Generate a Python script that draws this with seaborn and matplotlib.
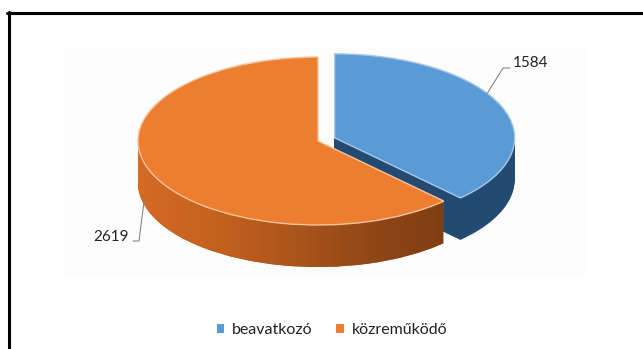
import numpy as np
import matplotlib
matplotlib.use("Agg")
import matplotlib.pyplot as plt
from matplotlib.path import Path
from matplotlib.patches import Rectangle
from matplotlib.lines import Line2D
from matplotlib.colors import LinearSegmentedColormap
import seaborn as sns

# data
categories = ["beavatkozó", "közreműködő"]
counts = [1584, 2619]
explode = [0.1, 0.0]

# styling
top_colors = ["#5b9bd5", "#ed7d31"]
edge_colors = ["#a8c8e9", "#f8c49a"]
side_colors = ["#234a71", "#b85a1c"]
text_color = "#222222"

sns.set_theme(style="white")
plt.rcParams["font.family"] = ["Lato", "DejaVu Sans"]

W, H = 643, 349
fig = plt.figure(figsize=(W / 100, H / 100), dpi=100)
fig.patch.set_facecolor("white")
ax = fig.add_axes([0, 0, 1, 1])

# projected pie: ellipse centre and radii in pixels, thickness of the disc
cx, cy = 318, 141
rx, ry = 180, 84
depth = 42


def to_data(px, py):
    return (px - cx) / rx, (cy - py) / ry


pie_kw = dict(startangle=90, counterclock=False, explode=explode, radius=1)

# faint plot-area background
x0, y0 = to_data(65, 277)
x1, y1 = to_data(587, 47)
ax.add_patch(Rectangle((x0, y0), x1 - x0, y1 - y0, facecolor="#fdfdfd",
                       edgecolor="none", zorder=0))

# side of the disc: stacked copies of the pie, deepest first
n_layers = 42
dz = depth / ry
orange_side = []
for k in range(n_layers, 0, -1):
    wedges, _ = ax.pie(counts, colors=side_colors, center=(0, -dz * k / n_layers),
                       wedgeprops=dict(linewidth=0), **pie_kw)
    for w in wedges:
        w.set_zorder(1)
    orange_side.append(wedges[1])

# shaded band over the orange rim
side_path = Path.make_compound_path(*[w.get_path() for w in orange_side])
shade = LinearSegmentedColormap.from_list(
    "rim", ["#d56b25", "#c4611f", "#a9541b", "#8d4616", "#7a3b11"])
grad = shade(np.linspace(0, 1, 256))[None, :, :]
im = ax.imshow(grad, extent=(-1.02, 0.82, -1.6, 0.2), aspect="auto",
               interpolation="bilinear", zorder=2)
im.set_clip_path(side_path, ax.transData)

# top face
top, _ = ax.pie(counts, colors=top_colors, center=(0, 0),
                wedgeprops=dict(linewidth=1.0), **pie_kw)
for w, ec in zip(top, edge_colors):
    w.set_edgecolor(ec)
    w.set_zorder(3)

# value labels with leader lines
blue, orange = top
bcx, bcy = blue.center
a = np.deg2rad(32)
b_anchor = (bcx + np.cos(a), bcy + np.sin(a))
b_elbow = to_data(503, 68)
b_end = to_data(510, 68)
ax.plot([b_anchor[0], b_elbow[0], b_end[0]], [b_anchor[1], b_elbow[1], b_end[1]],
        color="#808080", lw=0.75, zorder=4)
ax.text(*to_data(513, 63), f"{counts[0]}", ha="left", va="center",
        fontsize=11, color=text_color, zorder=5)

a = np.deg2rad(195)
o_anchor = (orange.center[0] + np.cos(a), orange.center[1] + np.sin(a) - 0.45)
o_elbow = to_data(139, 241)
o_end = to_data(133, 241)
ax.plot([o_anchor[0], o_elbow[0], o_end[0]], [o_anchor[1], o_elbow[1], o_end[1]],
        color="#808080", lw=0.75, zorder=4)
ax.text(*to_data(129, 237), f"{counts[1]}", ha="right", va="center",
        fontsize=11, color=text_color, zorder=5)

ax.set_xlim(to_data(0, 0)[0], to_data(W, 0)[0])
ax.set_ylim(to_data(0, H)[1], to_data(0, 0)[1])
ax.set_aspect("auto")
ax.axis("off")

# legend
leg = ax.legend(top, categories, loc="center",
                bbox_to_anchor=(332 / W, 1 - 330 / H), bbox_transform=fig.transFigure,
                ncol=2, frameon=False, fontsize=11.5, handlelength=0.45,
                handleheight=0.45, handletextpad=0.5, columnspacing=1.5)
for t in leg.get_texts():
    t.set_color(text_color)
for h in leg.legend_handles:
    h.set_edgecolor("none")

# chart frame (top and left edges)
fig.add_artist(Line2D([7 / W, 1], [1 - 12.5 / H, 1 - 12.5 / H],
                      transform=fig.transFigure, color="black", lw=2.2))
fig.add_artist(Line2D([8.5 / W, 8.5 / W], [0, 1 - 11.5 / H],
                      transform=fig.transFigure, color="black", lw=2.2))

fig.savefig("out.png", dpi=100)
